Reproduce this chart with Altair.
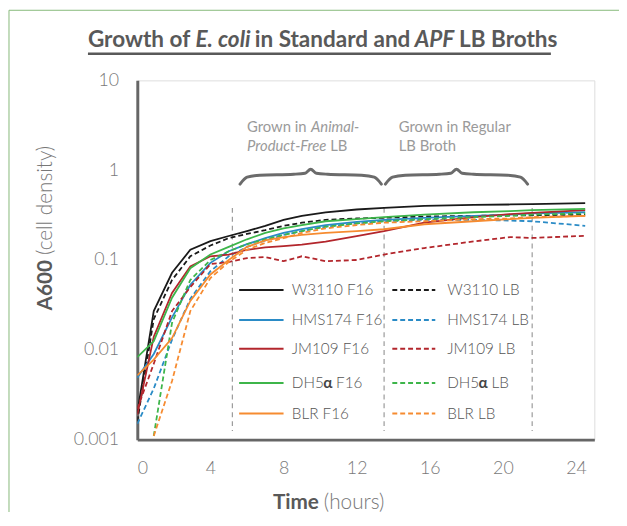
import altair as alt
import pandas as pd

# ---------------- data ----------------
time_h = [0, 0.9, 1.9, 2.9, 4, 5, 6, 7, 8, 9, 10.3, 12, 13.5, 15.7, 18.4, 20.4, 21.6, 24.5]

w3110_f16 = [0.002, 0.027, 0.072, 0.13, 0.162, 0.185, 0.21, 0.24, 0.28, 0.31, 0.34, 0.365, 0.38, 0.40, 0.41, 0.415, 0.42, 0.43]
w3110_lb = [0.0016, 0.022, 0.06, 0.11, 0.145, 0.175, 0.195, 0.215, 0.24, 0.26, 0.28, 0.29, 0.295, 0.305, 0.31, 0.315, 0.315, 0.32]
hms174_f16 = [0.0049, 0.009, 0.023, 0.053, 0.093, 0.125, 0.15, 0.175, 0.2, 0.22, 0.245, 0.265, 0.28, 0.295, 0.31, 0.32, 0.33, 0.34]
hms174_lb = [0.0015, 0.0037, 0.013, 0.037, 0.075, 0.11, 0.14, 0.165, 0.19, 0.21, 0.235, 0.255, 0.27, 0.28, 0.28, 0.275, 0.27, 0.24]
jm109_f16 = [0.0019, 0.014, 0.043, 0.085, 0.11, 0.115, 0.13, 0.138, 0.143, 0.148, 0.16, 0.185, 0.21, 0.26, 0.3, 0.325, 0.335, 0.36]
jm109_lb = [0.0022, 0.007, 0.027, 0.05, 0.09, 0.095, 0.105, 0.108, 0.097, 0.11, 0.097, 0.1, 0.115, 0.136, 0.161, 0.18, 0.176, 0.186]
dh5a_f16 = [0.0083, 0.0125, 0.038, 0.081, 0.115, 0.14, 0.17, 0.2, 0.225, 0.245, 0.27, 0.285, 0.3, 0.32, 0.34, 0.35, 0.36, 0.37]
dh5a_lb = [None, 0.0011, 0.02, 0.06, 0.1, 0.125, 0.15, 0.17, 0.19, 0.21, 0.235, 0.255, 0.27, 0.285, 0.3, 0.31, 0.32, 0.33]
blr_f16 = [0.0052, 0.0078, 0.0135, 0.035, 0.069, 0.1, 0.14, 0.165, 0.18, 0.19, 0.2, 0.21, 0.22, 0.25, 0.27, 0.285, 0.295, 0.31]
blr_lb = [None, 0.0011, 0.0045, 0.027, 0.063, 0.095, 0.13, 0.155, 0.175, 0.2, 0.225, 0.245, 0.26, 0.27, 0.285, 0.29, 0.3, 0.31]

strain_names = ["W3110 F16", "W3110 LB", "HMS174 F16", "HMS174 LB", "JM109 F16",
                "JM109 LB", "DH5α F16", "DH5α LB", "BLR F16", "BLR LB"]
strain_values = [w3110_f16, w3110_lb, hms174_f16, hms174_lb, jm109_f16,
                 jm109_lb, dh5a_f16, dh5a_lb, blr_f16, blr_lb]
strain_colors = ["#1a1a1a", "#1a1a1a", "#2a8bc6", "#2a8bc6", "#b3262c",
                 "#b3262c", "#3db54a", "#3db54a", "#f68b30", "#f68b30"]
strain_dashes = [[4000, 1], [5, 3]] * 5

x_ticks = [0, 4, 8, 12, 16, 20, 24]
y_ticks = [0.001, 0.01, 0.1, 1, 10]
divider_times = [5.2, 13.5, 21.6]

rows = []
for name, vals in zip(strain_names, strain_values):
    for t, v in zip(time_h, vals):
        if v is not None:
            rows.append({"Time": t, "A600": v, "Strain": name})
df = pd.DataFrame(rows)

FONT = "Lato"
x_scale = alt.Scale(domain=[0, 25], nice=False, zero=False)
y_scale = alt.Scale(type="log", domain=[0.001, 10], nice=False)
color_scale = alt.Scale(domain=strain_names, range=strain_colors)
dash_scale = alt.Scale(domain=strain_names, range=strain_dashes)

lines = alt.Chart(df).mark_line(strokeWidth=1.8, clip=True).encode(
    x=alt.X("Time:Q", scale=x_scale, axis=alt.Axis(
        values=x_ticks, title=None, grid=False, ticks=False, tickSize=0,
        domainColor="#666666", domainWidth=3, labelFont=FONT, labelFontSize=18,
        labelFontWeight=300, labelColor="#7a7a7a", labelPadding=20)),
    y=alt.Y("A600:Q", scale=y_scale, axis=alt.Axis(
        values=y_ticks, format="~g", title=None, grid=False, ticks=False, tickSize=0,
        domainColor="#666666", domainWidth=3, labelFont=FONT, labelFontSize=18,
        labelFontWeight=300, labelColor="#7a7a7a", labelPadding=19)),
    color=alt.Color("Strain:N", scale=color_scale, legend=None),
    strokeDash=alt.StrokeDash("Strain:N", scale=dash_scale, legend=None),
    detail="Strain:N",
)

# legend drawn inside the plot (2 columns x 5 rows), in data coordinates
leg_row_y = [0.0464, 0.0215, 0.01025, 0.00427, 0.00195]
leg_x0 = [5.57, 13.95]
leg_x1 = [8.0, 16.3]
leg_tx = [8.45, 16.95]
leg_records = []
for i, n in enumerate(strain_names):
    strain, medium = n.split(" ")
    leg_records.append({"Strain": n, "strain": strain, "medium": medium,
                        "x0": leg_x0[i % 2], "x1": leg_x1[i % 2], "tx": leg_tx[i % 2],
                        "y": leg_row_y[i // 2]})
leg_df = pd.DataFrame(leg_records)
leg_lines = alt.Chart(leg_df).mark_rule(strokeWidth=2).encode(
    x=alt.X("x0:Q", scale=x_scale), x2="x1:Q", y=alt.Y("y:Q", scale=y_scale),
    color=alt.Color("Strain:N", scale=color_scale, legend=None),
    strokeDash=alt.StrokeDash("Strain:N", scale=dash_scale, legend=None))

LEG_FS = 15.5
plain_df = leg_df[~leg_df["strain"].str.startswith("DH5")]
leg_text = alt.Chart(plain_df).mark_text(align="left", baseline="middle", font=FONT, fontSize=LEG_FS,
                                         fontWeight=300, color="#555555").encode(
    x=alt.X("tx:Q", scale=x_scale), y=alt.Y("y:Q", scale=y_scale), text="Strain:N")
# DH5α labels: the Greek alpha is bold in the reference
dh_df = leg_df[leg_df["strain"].str.startswith("DH5")].assign(
    t_a=lambda d: d["tx"] + 1.72, t_m=lambda d: d["tx"] + 2.42)
dh_main = alt.Chart(dh_df).mark_text(align="left", baseline="middle", font=FONT, fontSize=LEG_FS,
                                     fontWeight=300, color="#555555", text="DH5").encode(
    x=alt.X("tx:Q", scale=x_scale), y=alt.Y("y:Q", scale=y_scale))
dh_alpha = alt.Chart(dh_df).mark_text(align="left", baseline="middle", font=FONT, fontSize=LEG_FS,
                                      fontWeight="bold", color="#444444", text="α").encode(
    x=alt.X("t_a:Q", scale=x_scale), y=alt.Y("y:Q", scale=y_scale))
dh_med = alt.Chart(dh_df).mark_text(align="left", baseline="middle", font=FONT, fontSize=LEG_FS,
                                    fontWeight=300, color="#555555").encode(
    x=alt.X("t_m:Q", scale=x_scale), y=alt.Y("y:Q", scale=y_scale), text="medium:N")

# vertical dashed dividers
div_df = pd.DataFrame({"Time": divider_times, "top": [0.38] * 3, "bottom": [0.00125] * 3})
dividers = alt.Chart(div_df).mark_rule(color="#9a9a9a", strokeWidth=1.2, strokeDash=[5, 4]).encode(
    x=alt.X("Time:Q", scale=x_scale), y=alt.Y("top:Q", scale=y_scale), y2="bottom:Q")

# curly braces (annotation shapes)
def brace(t0, t1, base, bid):
    us = [0, 0.05, 0.14, 0.38, 0.46, 0.5, 0.54, 0.62, 0.86, 0.95, 1]
    hs = [0, 0.7, 0.9, 1.0, 1.1, 1.5, 1.1, 1.0, 0.9, 0.7, 0]
    return [{"Time": t0 + (t1 - t0) * u, "A600": 10 ** (base + 0.111 * h), "b": bid, "o": i}
            for i, (u, h) in enumerate(zip(us, hs))]

brace_df = pd.DataFrame(brace(5.62, 13.35, -0.156, 1) + brace(13.57, 21.35, -0.156, 2))
braces = alt.Chart(brace_df).mark_line(color="#6b6b6b", strokeWidth=3, interpolate="monotone",
                                        strokeCap="round").encode(
    x=alt.X("Time:Q", scale=x_scale), y=alt.Y("A600:Q", scale=y_scale),
    detail="b:N", order="o:Q")

# annotation text
note_normal = pd.DataFrame({"Time": [6.0, 10.55, 14.3, 14.3], "A600": [3.0, 1.85, 3.0, 1.85],
                            "txt": ["Grown in", "LB", "Grown in Regular", "LB Broth"]})
note_italic = pd.DataFrame({"Time": [9.5, 6.0], "A600": [3.0, 1.85],
                            "txt": ["Animal-", "Product-Free"]})
notes_n = alt.Chart(note_normal).mark_text(align="left", baseline="middle", font=FONT, fontSize=15,
                                           color="#9a9a9a").encode(
    x=alt.X("Time:Q", scale=x_scale), y=alt.Y("A600:Q", scale=y_scale), text="txt:N")
notes_i = alt.Chart(note_italic).mark_text(align="left", baseline="middle", font=FONT, fontSize=15,
                                           fontStyle="italic", color="#9a9a9a").encode(
    x=alt.X("Time:Q", scale=x_scale), y=alt.Y("A600:Q", scale=y_scale), text="txt:N")

one = pd.DataFrame({"k": [0]})

def ptext(text, x, y, **kw):
    return alt.Chart(one).mark_text(text=text, font=FONT, **kw).encode(
        x=alt.value(x), y=alt.value(y))

# title (mixed italic), positioned in pixels relative to the plot area
TS = 22.8
title_layers = [
    ptext("Growth of", -50, -34, align="left", baseline="alphabetic", fontSize=TS, fontWeight="bold", color="#595959"),
    ptext("E. coli", 59, -34, align="left", baseline="alphabetic", fontSize=TS, fontWeight="bold", fontStyle="italic", color="#595959"),
    ptext("in Standard and", 119, -34, align="left", baseline="alphabetic", fontSize=TS, fontWeight="bold", color="#595959"),
    ptext("APF", 281, -34, align="left", baseline="alphabetic", fontSize=TS, fontWeight="bold", fontStyle="italic", color="#595959"),
    ptext("LB Broths", 326, -34, align="left", baseline="alphabetic", fontSize=TS, fontWeight="bold", color="#595959"),
]
underline = alt.Chart(one).mark_rule(color="#595959", strokeWidth=2.5).encode(
    x=alt.value(-50), x2=alt.value(419), y=alt.value(-27))

# axis titles
axis_titles = [
    ptext("A600", -92, 182, align="right", baseline="middle", angle=270, fontSize=21, fontWeight="bold", color="#595959"),
    ptext("(cell density)", -92, 177, align="left", baseline="middle", angle=270, fontSize=21, fontWeight=300, color="#777777"),
    ptext("Time", 184, 428, align="right", baseline="middle", fontSize=21, fontWeight="bold", color="#595959"),
    ptext("(hours)", 189, 428, align="left", baseline="middle", fontSize=21, fontWeight=300, color="#777777"),
]

# thin green frame of the figure
frame = [
    alt.Chart(one).mark_rule(color="#86b97a", strokeWidth=1).encode(
        x=alt.value(-130), y=alt.value(-71), y2=alt.value(440)),
    alt.Chart(one).mark_rule(color="#86b97a", strokeWidth=1).encode(
        x=alt.value(-130), x2=alt.value(500), y=alt.value(-71)),
]

chart = alt.layer(
    dividers, braces, notes_n, notes_i, leg_lines, leg_text, dh_main, dh_alpha, dh_med,
    lines, underline, *title_layers, *axis_titles, *frame
).properties(
    width=463, height=364,
    autosize=alt.AutoSizeParams(type="none"),
    padding={"left": 131, "top": 70, "right": 25, "bottom": 70},
).configure_view(stroke=None).configure(background="white")

chart.save("out.html", embed_options={"renderer": "svg", "actions": False})
